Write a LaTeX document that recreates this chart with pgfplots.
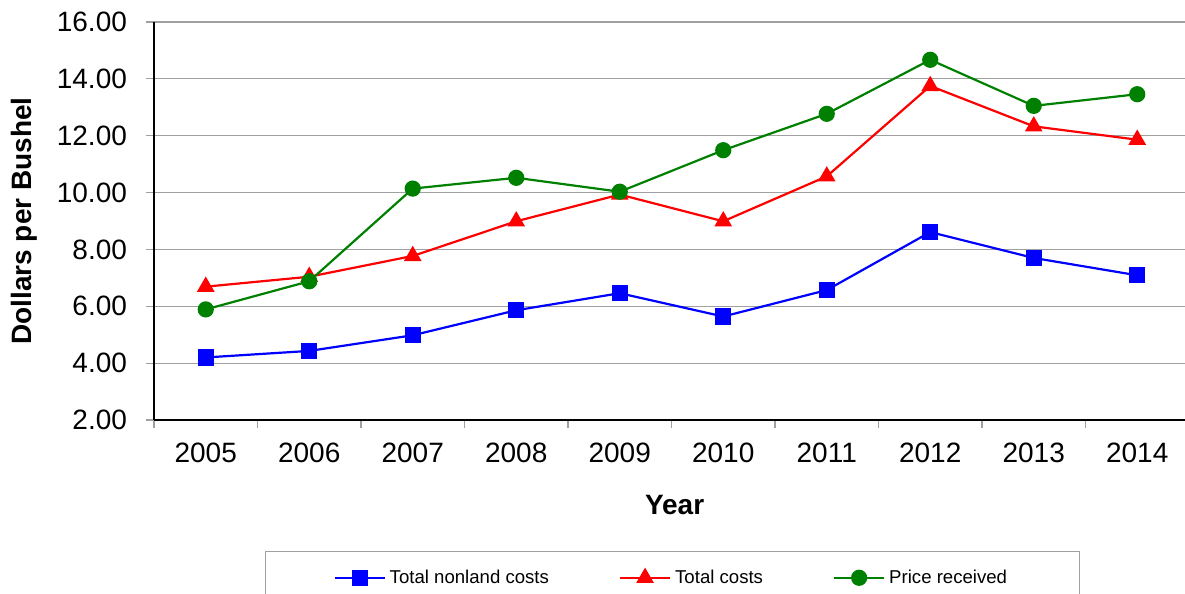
\documentclass[border=0pt]{standalone}
\usepackage{fontspec}
\setmainfont{Liberation Sans}
\usepackage{pgfplots}
\pgfplotsset{compat=1.18}
\definecolor{cNonland}{RGB}{0,0,255}
\definecolor{cTotal}{RGB}{255,0,0}
\definecolor{cPrice}{RGB}{0,128,0}
\definecolor{cGrid}{RGB}{160,160,160}

\begin{document}
\begin{tikzpicture}
\begin{axis}[
  name=ax,
  scale only axis,
  width=517.5pt, height=199pt,
  xmin=-0.5, xmax=9.5,
  ymin=2, ymax=16,
  axis x line*=bottom, axis y line*=left,
  axis line style={black, line width=0.7pt},
  xtick={0,...,9},
  xticklabels={2005,2006,2007,2008,2009,2010,2011,2012,2013,2014},
  minor xtick={-0.5,0.5,...,9.5},
  major x tick style={draw=none},
  minor tick length=4pt,
  ytick={2,4,...,16},
  major tick length=4pt,
  tick align=outside,
  tick style={cGrid, line width=0.6pt},
  ymajorgrids,
  grid style={cGrid, line width=0.6pt},
  yticklabel={\pgfmathprintnumber[fixed, fixed zerofill, precision=2]{\tick}},
  /pgf/number format/assume math mode=true,
  ticklabel style={font=\fontsize{14}{16}\selectfont},
  xticklabel style={yshift=-4pt},
  yticklabel style={xshift=-6pt},
  xlabel={Year},
  ylabel={Dollars per Bushel},
  xlabel style={font=\fontsize{14}{16}\selectfont\bfseries, at={(axis description cs:0.503,-0.2136)}, anchor=center},
  ylabel style={font=\fontsize{14}{16}\selectfont\bfseries, at={(axis description cs:-0.1255,0.5)}, anchor=center},
  every axis plot/.append style={line width=1.1pt},
  legend columns=3,
  legend style={
    at={(axis description cs:0.1072,-0.329)}, anchor=north west,
    draw=cGrid, line width=0.6pt,
    font=\fontsize{9.3}{11}\selectfont,
    inner xsep=34pt, inner ysep=7pt,
    /tikz/every even column/.append style={column sep=33pt},
  },
  legend image code/.code={%
    \draw[mark repeat=2, mark phase=2] plot coordinates {(0pt,0pt) (12.5pt,0pt) (25pt,0pt)};},
]
\addplot[cNonland, mark=square*, mark size=3.5pt] coordinates {
  (0,4.20) (1,4.43) (2,4.98) (3,5.86) (4,6.46) (5,5.64) (6,6.57) (7,8.61) (8,7.70) (9,7.09)
};
\addlegendentry{Total nonland costs}
\addplot[cTotal, mark=triangle*, mark size=4pt] coordinates {
  (0,6.69) (1,7.04) (2,7.77) (3,8.99) (4,9.93) (5,8.99) (6,10.57) (7,13.75) (8,12.33) (9,11.86)
};
\addlegendentry{Total costs}
\addplot[cPrice, mark=*, mark size=3.5pt] coordinates {
  (0,5.89) (1,6.88) (2,10.14) (3,10.52) (4,10.03) (5,11.49) (6,12.77) (7,14.67) (8,13.05) (9,13.46)
};
\addlegendentry{Price received}
\end{axis}
\pgfresetboundingbox
\path ([shift={(-77pt,-87pt)}]ax.south west) rectangle ([shift={(515.5pt,11pt)}]ax.north west);
\end{tikzpicture}
\end{document}
